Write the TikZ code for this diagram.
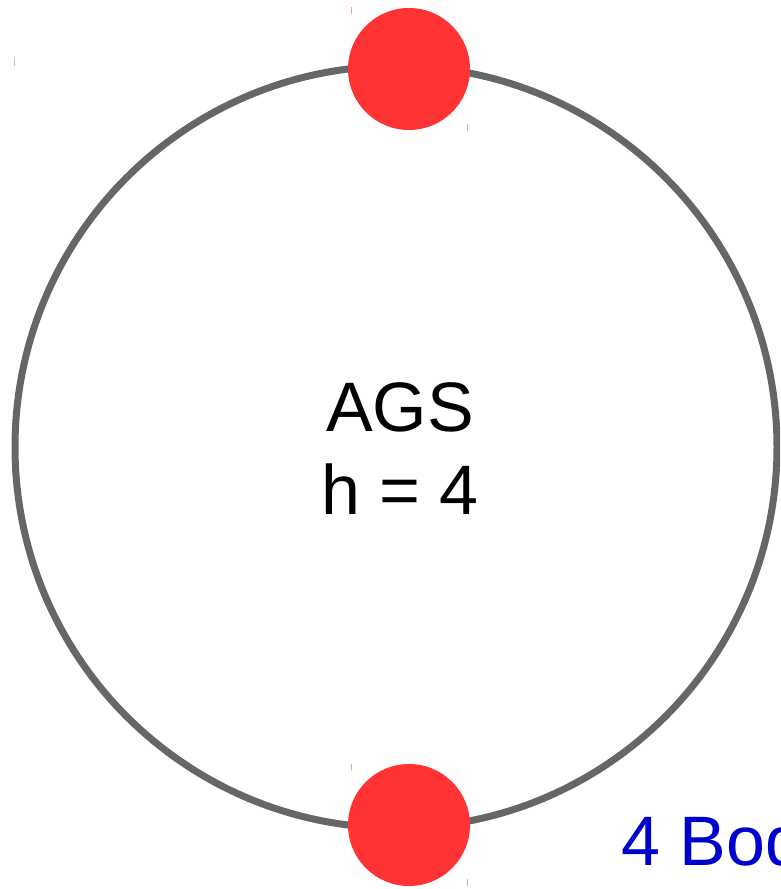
\documentclass[tikz,border=0pt]{standalone}
\usepackage{fontspec}
\setmainfont{Liberation Sans}
\definecolor{ringgray}{HTML}{666666}
\definecolor{dotred}{HTML}{FF3333}
\definecolor{txtblue}{HTML}{0000CC}
\definecolor{tickred}{HTML}{F0A0A0}
\begin{document}
\begin{tikzpicture}[x=1pt,y=-1pt,
  ring/.style={draw=ringgray,line width=7pt},
  dot/.style={circle,fill=dotred,minimum size=122pt,inner sep=0pt},
  tick/.style={line width=1pt}]
\useasboundingbox (0,0) rectangle (780,889);
\begin{scope}
\clip (0,0) rectangle (780,889);
\node[ring,circle,minimum size=762pt,inner sep=0pt] (ring) at (396,447) {};
\node[dot] (top) at (409,69) {};
\node[dot] (bot) at (409,825) {};
\node[font=\fontsize{70}{83}\selectfont,align=center,inner sep=0pt] (lbl) at (400,449) {AGS\\h = 4};
\node[font=\fontsize{70}{80}\selectfont,text=txtblue,anchor=base west,inner sep=0pt] (bodies) at (621,865) {4 Bodies};
\draw[tick,draw=lightgray] (14,58) -- (14,66);
\draw[tick,draw=tickred] (351,7) -- (351,14);
\draw[tick,draw=tickred] (467,124) -- (467,131);
\draw[tick,draw=tickred] (351,764) -- (351,771);
\draw[tick,draw=tickred] (467,879) -- (467,886);
\end{scope}
\end{tikzpicture}
\end{document}
